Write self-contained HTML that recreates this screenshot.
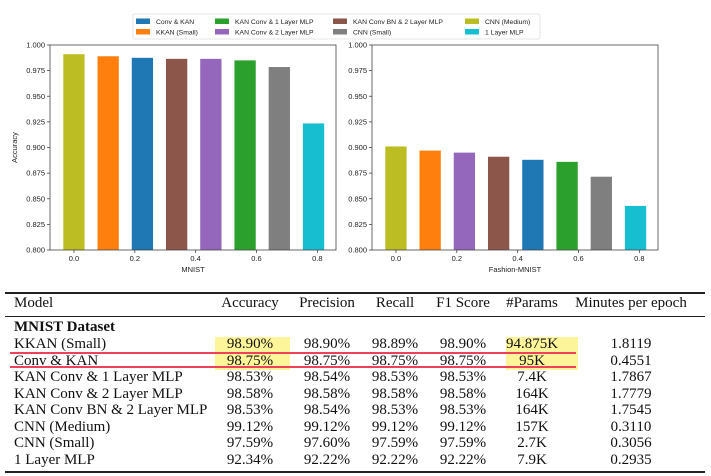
<!DOCTYPE html>
<html><head><meta charset="utf-8"><style>
body{margin:0;background:#fff;width:711px;height:476px;overflow:hidden;position:relative;font-family:"Liberation Serif",serif}
svg{position:absolute;left:0;top:0}
.t{position:absolute;font-size:15px;color:#111;white-space:nowrap}
.c{transform:translateX(-50%)}
.rule{position:absolute;left:5px;width:700px;background:#222}
.hl{position:absolute;background:#fdf59a}
.red{position:absolute;left:10px;width:566px;height:2px;background:#f0405a}
</style></head><body>
<svg id="chart" width="711" height="285" font-family="Liberation Sans, DejaVu Sans, sans-serif"></svg>
<div id="tbl"></div>
<script>
const models=["CNN (Medium)","KKAN (Small)","Conv & KAN","KAN Conv BN & 2 Layer MLP","KAN Conv & 2 Layer MLP","KAN Conv & 1 Layer MLP","CNN (Small)","1 Layer MLP"];
const colorsL=["#bcbd22","#ff7f0e","#1f77b4","#8c564b","#9467bd","#2ca02c","#7f7f7f","#17becf"];
const mnistVals=[0.991,0.989,0.9875,0.9865,0.9865,0.985,0.9785,0.9235];
const fashionModels=["CNN (Medium)","KKAN (Small)","KAN Conv & 2 Layer MLP","KAN Conv BN & 2 Layer MLP","Conv & KAN","KAN Conv & 1 Layer MLP","CNN (Small)","1 Layer MLP"];
const colorsR=["#bcbd22","#ff7f0e","#9467bd","#8c564b","#1f77b4","#2ca02c","#7f7f7f","#17becf"];
const fashionVals=[0.901,0.897,0.895,0.891,0.888,0.886,0.8715,0.843];
const yTicks=[0.800,0.825,0.850,0.875,0.900,0.925,0.950,0.975,1.000];
const xTicks=[0.0,0.2,0.4,0.6,0.8];
const legendItems=["Conv & KAN","KKAN (Small)","KAN Conv & 1 Layer MLP","KAN Conv & 2 Layer MLP","KAN Conv BN & 2 Layer MLP","CNN (Small)","CNN (Medium)","1 Layer MLP"];
const legendColors=["#1f77b4","#ff7f0e","#2ca02c","#9467bd","#8c564b","#7f7f7f","#bcbd22","#17becf"];

const NS="http://www.w3.org/2000/svg";
const svg=document.getElementById('chart');
function mk(tag,attrs,parent){const e=document.createElementNS(NS,tag);for(const k in attrs)e.setAttribute(k,attrs[k]);(parent||svg).appendChild(e);return e;}
const plotTop=45,plotBot=250;
function yS(v){return plotBot-(v-0.8)/0.2*(plotBot-plotTop);}
function panel(x0,x1,vals,cols,names,xlabel,ylabel,key){
  const pxPer=(x1-x0)/0.94;
  const xmin=-0.0787;
  const xS=v=>x0+(v-xmin)*pxPer;
  const g=mk('g',{});
  
  
  vals.forEach((v,i)=>{
    const cx=xS(i*0.1125),w=0.07*pxPer;
    const r=mk('rect',{x:cx-w/2,y:yS(v),width:w,height:plotBot-yS(v),fill:cols[i]},g);
    
    
  });
  mk('rect',{x:x0,y:plotTop,width:x1-x0,height:plotBot-plotTop,fill:'none',stroke:'#444','stroke-width':0.8},g);
  yTicks.forEach(t=>{const y=yS(t);mk('line',{x1:x0-3,x2:x0,y1:y,y2:y,stroke:'#444','stroke-width':0.8},g);
    const tx=mk('text',{x:x0-5,y:y+2.6,'font-size':7.5,'text-anchor':'end',fill:'#222'},g);tx.textContent=t.toFixed(3);});
  xTicks.forEach(t=>{const x=xS(t);mk('line',{x1:x,x2:x,y1:plotBot,y2:plotBot+3,stroke:'#444','stroke-width':0.8},g);
    const tx=mk('text',{x:x,y:plotBot+11,'font-size':7.5,'text-anchor':'middle',fill:'#222'},g);tx.textContent=t.toFixed(1);});
  const xl=mk('text',{x:(x0+x1)/2,y:272,'font-size':7.5,'text-anchor':'middle',fill:'#222'},g);xl.textContent=xlabel;
  
  
  if(ylabel){const yl=mk('text',{x:0,y:0,'font-size':7.5,'text-anchor':'middle',fill:'#222',transform:`translate(17,${(plotTop+plotBot)/2}) rotate(-90)`},g);yl.textContent=ylabel;
    
    }
}
panel(50,336,mnistVals,colorsL,models,"MNIST","Accuracy","mnist");
panel(372,658,fashionVals,colorsR,fashionModels,"Fashion-MNIST","","fashion");
const lg=mk('g',{});


mk('rect',{x:133,y:14,width:407,height:25,fill:'#fff',stroke:'#ddd','stroke-width':0.8,rx:2},lg);
const colX=[136,215,333,465];
legendItems.forEach((n,i)=>{const c=Math.floor(i/2),r=i%2;const y=r?32:21.5;
  const e=mk('g',{},lg);
  
  
  mk('rect',{x:colX[c],y:y-3,width:14,height:5.5,fill:legendColors[i]},e);
  const t=mk('text',{x:colX[c]+20,y:y+2.5,'font-size':6.8,fill:'#222'},e);t.textContent=n;});

const tbl=document.getElementById('tbl');
function div(cls,style,text,name){const d=document.createElement('div');d.className=cls;d.setAttribute('style',style);if(text!==undefined)d.textContent=text;
  
  
  tbl.appendChild(d);return d;}
div('hl','left:215px;top:337px;width:75px;height:33px','', 'accuracy-highlight');
div('hl','left:506px;top:337px;width:72px;height:33px','', 'params-highlight');
div('rule','top:292px;height:1.5px','', 'top-rule');
div('rule','top:316px;height:1px','', 'header-rule');
div('rule','top:471px;height:1.5px','', 'bottom-rule');
const colC=[250,327,395,463,532,631];
const headers=["Accuracy","Precision","Recall","F1 Score","#Params","Minutes per epoch"];
div('t','left:14px;top:295px','Model','header-model');
headers.forEach((h,i)=>div('t c',`left:${colC[i]}px;top:295px`,h,'header-'+h.toLowerCase().replace(/[^a-z0-9]+/g,'-')));
div('t',`left:14px;top:319px;font-weight:bold`,'MNIST Dataset','section-mnist');
const rows=[
["KKAN (Small)","98.90%","98.90%","98.89%","98.90%","94.875K","1.8119"],
["Conv & KAN","98.75%","98.75%","98.75%","98.75%","95K","0.4551"],
["KAN Conv & 1 Layer MLP","98.53%","98.54%","98.53%","98.53%","7.4K","1.7867"],
["KAN Conv & 2 Layer MLP","98.58%","98.58%","98.58%","98.58%","164K","1.7779"],
["KAN Conv BN & 2 Layer MLP","98.53%","98.54%","98.53%","98.53%","164K","1.7545"],
["CNN (Medium)","99.12%","99.12%","99.12%","99.12%","157K","0.3110"],
["CNN (Small)","97.59%","97.60%","97.59%","97.59%","2.7K","0.3056"],
["1 Layer MLP","92.34%","92.22%","92.22%","92.22%","7.9K","0.2935"]];
rows.forEach((r,ri)=>{const y=336+ri*16.5;
  div('t',`left:14px;top:${y}px`,r[0],'row-label');
  for(let j=1;j<7;j++)div('t c',`left:${colC[j-1]}px;top:${y}px`,r[j],'table-cell');});
div('red','top:351.5px','', 'red-underline-1');
div('red','top:366px','', 'red-underline-2');
</script>
</body></html>
